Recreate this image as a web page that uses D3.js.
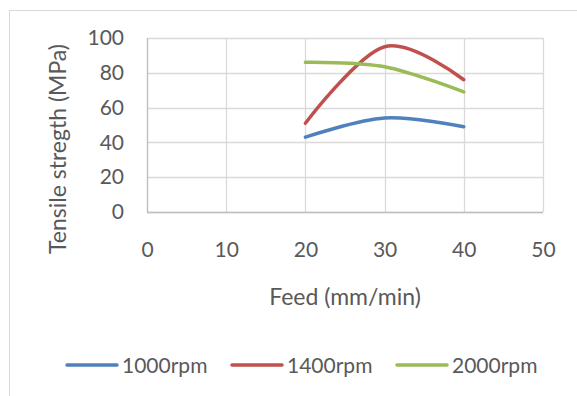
<!DOCTYPE html>
<html>
  <head>
    <script src="https://d3js.org/d3.v7.min.js"></script>
  </head>
  <style>
    body { margin: 0; background: white; }
    text { font-family: Lato, "Open Sans", sans-serif; fill: #595959; }
  </style>
  <body>
    <div id="chart"></div>
    <script>
    // data
    var feed = [20, 30, 40];
    var rpm1000 = [43, 54, 49];
    var rpm1400 = [51, 95, 76];
    var rpm2000 = [86, 83.5, 69];
    var seriesNames = ["1000rpm", "1400rpm", "2000rpm"];
    var seriesColors = ["#4F81BD", "#C0504D", "#9BBB59"];
    var xTicks = [0, 10, 20, 30, 40, 50];
    var yTicks = [0, 20, 40, 60, 80, 100];

    var width = 577, height = 396;
    var plot = { left: 147, right: 543, top: 38, bottom: 212 };

    var svg = d3.select("#chart").append("svg")
        .attr("width", width)
        .attr("height", height);

    // outer frame of the chart area
    svg.append("rect")
        .attr("x", 9.5).attr("y", 10.5)
        .attr("width", 600).attr("height", 400)
        .attr("fill", "white")
        .attr("stroke", "#D9D9D9");

    var x = d3.scaleLinear().domain([0, 50]).range([plot.left, plot.right]);
    var y = d3.scaleLinear().domain([0, 100]).range([plot.bottom, plot.top]);

    // gridlines
    svg.append("g").selectAll("line.h")
        .data(yTicks).enter().append("line")
          .attr("x1", plot.left).attr("x2", plot.right)
          .attr("y1", d => Math.round(y(d)) + 0.5).attr("y2", d => Math.round(y(d)) + 0.5)
          .attr("stroke", "#D9D9D9").attr("stroke-width", 1.3);
    svg.append("g").selectAll("line.v")
        .data(xTicks).enter().append("line")
          .attr("y1", plot.top).attr("y2", plot.bottom)
          .attr("x1", d => Math.round(x(d)) + 0.5).attr("x2", d => Math.round(x(d)) + 0.5)
          .attr("stroke", "#D9D9D9").attr("stroke-width", 1.3);

    // axis lines
    svg.append("line")
        .attr("x1", plot.left).attr("x2", plot.right)
        .attr("y1", plot.bottom + 0.5).attr("y2", plot.bottom + 0.5)
        .attr("stroke", "#BFBFBF").attr("stroke-width", 1.3);
    svg.append("line")
        .attr("x1", plot.left + 0.5).attr("x2", plot.left + 0.5)
        .attr("y1", plot.top).attr("y2", plot.bottom)
        .attr("stroke", "#BFBFBF").attr("stroke-width", 1.3);

    // axes using d3 axis, then strip lines
    var xAxis = svg.append("g")
        .attr("transform", "translate(0," + (plot.bottom + 30.5) + ")")
        .call(d3.axisBottom(x).tickValues(xTicks).tickSize(0).tickPadding(0));
    var yAxis = svg.append("g")
        .attr("transform", "translate(" + (plot.left - 23) + ",0)")
        .call(d3.axisLeft(y).tickValues(yTicks).tickSize(0).tickPadding(0));
    [xAxis, yAxis].forEach(a => {
      a.select(".domain").remove();
      a.selectAll("text")
        .style("font-family", "Lato, 'Open Sans', sans-serif")
        .style("font-size", "21px")
        .attr("fill", "#595959");
    });

    // axis titles
    svg.append("text")
        .attr("x", (plot.left + plot.right) / 2)
        .attr("y", 305)
        .attr("text-anchor", "middle")
        .style("font-size", "23px")
        .text("Feed (mm/min)");
    svg.append("text")
        .attr("transform", "translate(66,149) rotate(-90)")
        .attr("text-anchor", "middle")
        .style("font-size", "23px")
        .text("Tensile stregth (MPa)");

    // series lines
    var line = d3.line()
        .x(d => x(d[0]))
        .y(d => y(d[1]))
        .curve(d3.curveCardinal.tension(0));

    [rpm1000, rpm1400, rpm2000].forEach((vals, i) => {
      svg.append("path")
          .datum(feed.map((f, j) => [f, vals[j]]))
          .attr("fill", "none")
          .attr("stroke", seriesColors[i])
          .attr("stroke-width", 3.5)
          .attr("stroke-linecap", "round")
          .attr("d", line);
    });

    // legend
    var legendX = [67, 232, 397];
    var legend = svg.append("g").selectAll("g")
        .data(seriesNames).enter().append("g")
          .attr("transform", (d, i) => "translate(" + legendX[i] + ",365)");
    legend.append("line")
        .attr("x1", 0).attr("x2", 50)
        .attr("stroke", (d, i) => seriesColors[i])
        .attr("stroke-width", 3.5)
        .attr("stroke-linecap", "round");
    legend.append("text")
        .attr("x", 55).attr("y", 7.5)
        .style("font-size", "21px")
        .text(d => d);
    </script>
  </body>
</html>
